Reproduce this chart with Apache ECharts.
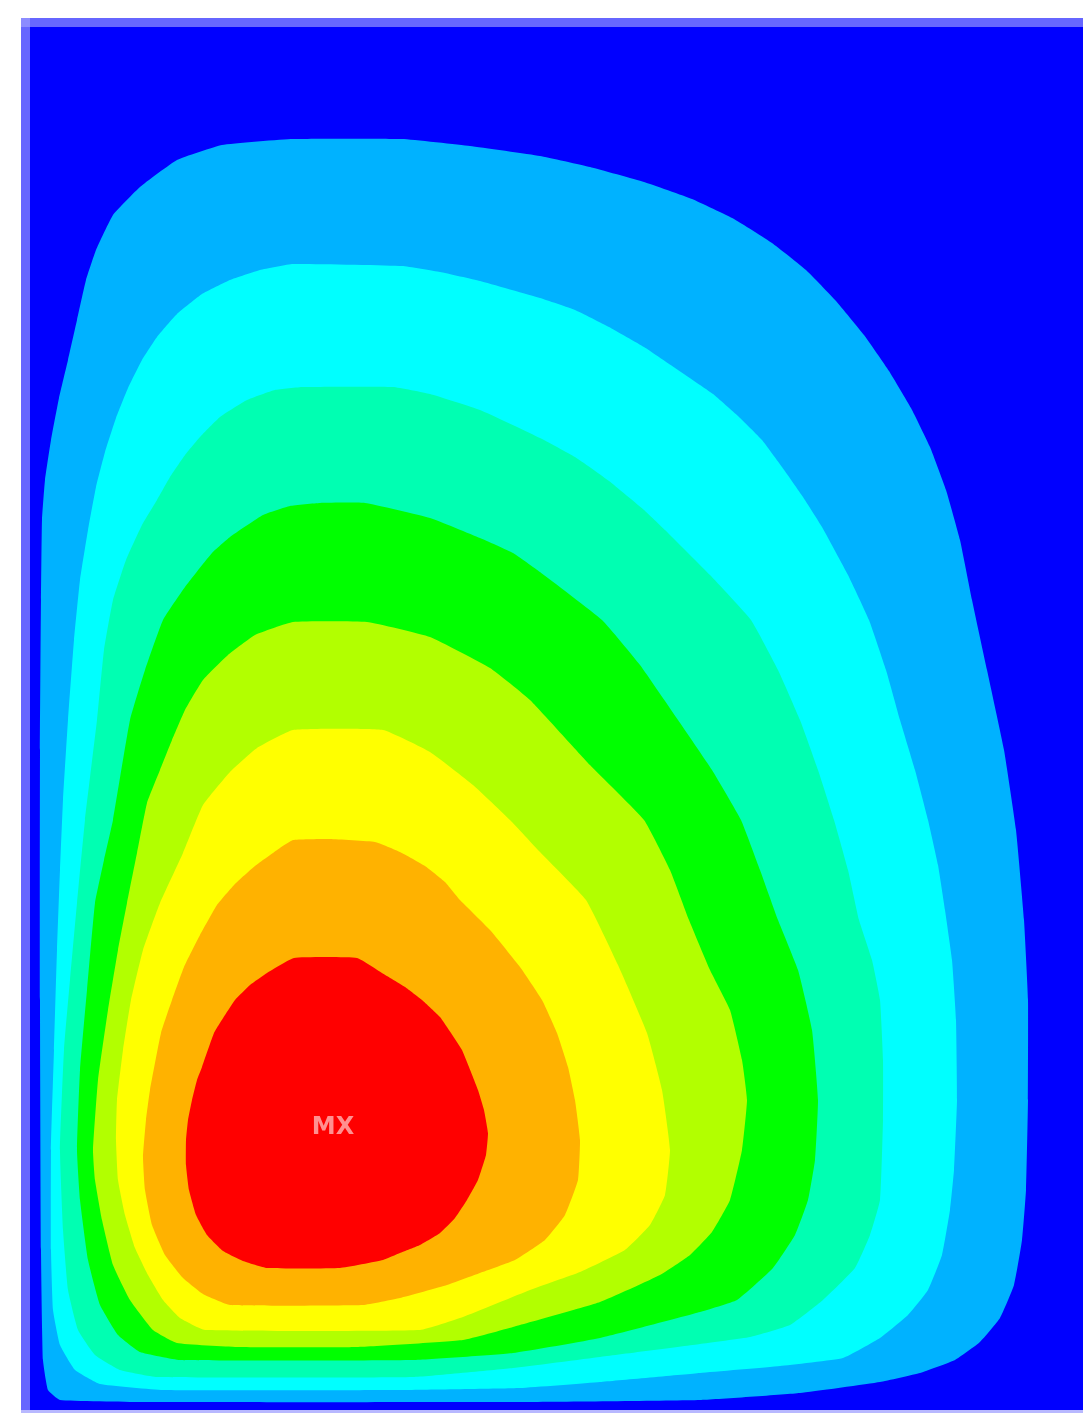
<!DOCTYPE html>
<html>
	<head>
		<meta charset="UTF-8">
		<title></title>
		<style>
			html, body { margin: 0; padding: 0; background: #fff; }
		</style>
	</head>
	<body>
		<div id="box" style="width: 1083px;height: 1413px;"></div>
		<script src="https://cdn.jsdelivr.net/npm/echarts@6/dist/echarts.min.js" type="text/javascript" charset="utf-8"></script>
		<script type="text/javascript">
			// plate size (model units) and contour band colours, low -> high
			const plateW = 1053;
			const plateH = 1383;
			const bandColors = ['#0000ff', '#00b2ff', '#00ffff', '#00ffb2', '#00ff00', '#b2ff00', '#ffff00', '#ffb200', '#ff0000'];

			// outer outline of every band (x from left edge, y from top edge)
			const band2 = [[192,118],[263,112],[372,112],[440,119],[510,129],[560,140],[614,155],[662,172],[704,192],[742,216],[776,243],[806,274],[834,308],[859,344],[881,381],[900,420],[916,463],[930,513],[942,573],[957,643],[974,723],[986,803],[994,893],[998,973],[998,1073],[996,1163],[992,1213],[984,1258],[970,1291],[950,1315],[925,1333],[890,1346],[850,1355],[770,1366],[670,1373],[490,1375],[110,1375],[30,1373],[18,1363],[13,1333],[11,1223],[10,973],[10,723],[11,573],[12,493],[15,453],[21,413],[29,371],[38,333],[47,293],[56,253],[66,223],[83,188],[110,160],[147,133]];
			const band3 = [[263,237],[372,239],[410,245],[450,254],[510,271],[545,283],[579,300],[614,320],[648,343],[683,367],[708,389],[732,413],[752,440],[773,470],[792,500],[818,548],[839,593],[856,643],[870,693],[885,743],[898,793],[908,838],[915,883],[922,933],[926,993],[927,1073],[924,1143],[920,1183],[912,1228],[898,1263],[878,1288],[850,1311],[813,1331],[750,1339],[670,1346],[570,1355],[490,1361],[370,1363],[133,1363],[70,1357],[45,1343],[30,1318],[23,1283],[21,1223],[21,1123],[24,1023],[27,923],[30,843],[33,773],[38,693],[44,613],[50,553],[58,503],[66,460],[75,425],[86,391],[98,361],[112,333],[127,310],[147,287],[172,267],[200,253],[230,243]];
			const band4 = [[273,360],[363,360],[400,367],[450,383],[510,411],[545,430],[579,454],[614,483],[635,503],[680,548],[721,593],[748,643],[770,693],[788,743],[804,793],[818,843],[829,893],[842,933],[850,973],[853,1033],[853,1093],[850,1173],[840,1208],[825,1241],[793,1273],[760,1298],[720,1310],[670,1317],[570,1330],[483,1341],[383,1350],[127,1350],[90,1343],[65,1328],[48,1303],[38,1263],[33,1203],[30,1123],[34,1023],[40,953],[47,876],[55,793],[67,693],[74,623],[83,573],[96,533],[112,498],[127,473],[140,450],[155,428],[170,410],[190,390],[217,373],[245,363]];
			const band5 = [[290,476],[335,476],[400,491],[450,511],[483,526],[510,545],[572,593],[610,638],[648,693],[682,743],[711,793],[730,843],[748,893],[768,943],[782,1003],[788,1073],[785,1133],[778,1173],[765,1208],[743,1241],[707,1273],[670,1285],[570,1311],[483,1326],[383,1333],[150,1333],[110,1325],[88,1308],[70,1278],[58,1233],[50,1173],[47,1123],[50,1043],[57,963],[65,876],[74,833],[83,793],[100,693],[115,643],[133,593],[155,560],[182,526],[200,510],[233,488],[260,479]];
			const band6 = [[263,595],[337,595],[400,610],[460,641],[500,673],[560,738],[614,793],[640,843],[659,893],[680,943],[700,983],[712,1033],[717,1073],[712,1123],[700,1173],[682,1205],[660,1228],[630,1248],[570,1275],[483,1300],[433,1313],[327,1320],[207,1320],[147,1316],[123,1303],[100,1273],[83,1238],[72,1193],[65,1153],[63,1123],[68,1053],[78,983],[88,923],[97,876],[107,826],[117,776],[130,743],[142,713],[155,683],[173,653],[198,628],[225,608]];
			const band7 = [[263,703],[353,703],[400,725],[443,758],[480,793],[510,825],[556,873],[588,938],[617,1006],[632,1063],[640,1123],[635,1168],[620,1198],[595,1223],[550,1245],[500,1263],[433,1290],[390,1303],[175,1303],[150,1291],[133,1273],[118,1248],[105,1221],[95,1188],[88,1153],[86,1113],[87,1073],[93,1023],[101,973],[113,923],[130,876],[153,826],[173,778],[200,745],[227,721]];
			const band8 = [[263,813],[300,812],[345,815],[370,825],[395,839],[415,855],[430,873],[460,903],[490,940],[512,973],[527,1006],[538,1040],[545,1073],[550,1113],[548,1153],[535,1188],[515,1213],[485,1233],[450,1246],[417,1258],[370,1271],[333,1278],[200,1278],[173,1267],[153,1251],[135,1228],[122,1198],[115,1163],[113,1130],[116,1093],[120,1063],[131,1006],[142,973],[154,940],[170,908],[187,878],[205,857],[225,839],[250,821]];
			const band9 = [[264,931],[327,931],[352,946],[375,960],[392,973],[410,990],[421,1006],[432,1023],[439,1040],[448,1063],[454,1083],[458,1106],[456,1128],[448,1153],[437,1173],[425,1191],[410,1206],[390,1218],[370,1226],[353,1233],[310,1241],[237,1241],[213,1234],[193,1224],[177,1208],[166,1188],[159,1163],[156,1138],[156,1113],[158,1093],[162,1073],[167,1053],[172,1040],[184,1006],[195,988],[205,973],[220,958],[237,946]];
			const bands = [band2, band3, band4, band5, band6, band7, band8, band9];

			// location of the maximum
			const mxPoint = [303, 1101];

			const myChart = echarts.init(document.getElementById('box'));

			const option = {
			    animation: false,
			    grid: {
			        show: true,
			        left: 30,
			        top: 27,
			        right: 0,
			        bottom: 3,
			        backgroundColor: bandColors[0],
			        borderWidth: 0
			    },
			    xAxis: { type: 'value', min: 0, max: plateW, show: false },
			    yAxis: { type: 'value', min: 0, max: plateH, inverse: true, show: false },
			    graphic: [
			        // plate frame strips
			        { type: 'rect', shape: { x: 21, y: 18, width: 9, height: 1392 }, style: { fill: '#6666ff' } },
			        { type: 'rect', shape: { x: 21, y: 18, width: 1062, height: 9 }, style: { fill: '#6666ff' } },
			        { type: 'rect', shape: { x: 21, y: 18, width: 9, height: 9 }, style: { fill: '#8c8cff' } },
			        { type: 'rect', shape: { x: 21, y: 1410, width: 1062, height: 3 }, style: { fill: '#b8b8ff' } }
			    ],
			    series: [{
			        type: 'custom',
			        coordinateSystem: 'cartesian2d',
			        silent: true,
			        data: bands.map((b, i) => [i]),
			        renderItem: function (params, api) {
			            const idx = api.value(0);
			            const pts = bands[idx].map(p => api.coord(p));
			            return {
			                type: 'polygon',
			                shape: { points: pts, smooth: 0.12 },
			                style: { fill: bandColors[idx + 1], stroke: null }
			            };
			        }
			    }, {
			        type: 'scatter',
			        symbolSize: 0,
			        silent: true,
			        data: [mxPoint],
			        label: {
			            show: true,
			            position: 'inside',
			            formatter: 'MX',
			            color: '#ffb4b4',
			            fontSize: 24,
			            fontWeight: 'bold',
			            fontFamily: 'DejaVu Sans'
			        }
			    }]
			};

			myChart.setOption(option);
		</script>
	</body>
</html>
